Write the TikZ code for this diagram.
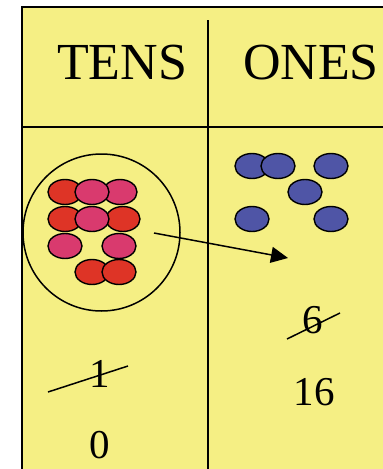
\documentclass[tikz,border=0pt]{standalone}
\usepackage{fontspec}
\setmainfont{Liberation Serif}
\usetikzlibrary{arrows.meta, positioning}
\definecolor{padyellow}{HTML}{F5EF84}
\definecolor{tenred}{HTML}{DE3426}
\definecolor{tenpink}{HTML}{D93A6E}
\definecolor{oneblue}{HTML}{4F55A6}

\begin{document}
\begin{tikzpicture}[x=1pt, y=-1pt,
      head/.style={font=\fontsize{52}{60}\selectfont, anchor=base, inner sep=0pt},
      digit/.style={font=\fontsize{41}{48}\selectfont, anchor=base, inner sep=0pt},
      redc/.style={fill=tenred},
      pinkc/.style={fill=tenpink},
      bluec/.style={fill=oneblue},
      strike/.style={line width=1.5pt},
      arr/.style={-{Triangle[length=17pt, width=16pt]}, line width=1.5pt}
    ]
    \useasboundingbox (0,0) rectangle (383,469);
    % place value chart
    \fill[white] (0,0) rectangle (383,469);
    \fill[padyellow] (22,7) rectangle (383,469);
    \draw[line width=2.2pt] (383,7) -- (22,7) -- (22,469);
    \draw[line width=1.7pt] (208,20) -- (208,469);
    \draw[line width=1.7pt] (22,127) -- (383,127);
    \node[head] (tens) at (122,79) {TENS};
    \node[head] (ones) at (311,79) {ONES};
    % ten counters grouped
    \node[draw, line width=1.5pt, circle, minimum size=157pt, inner sep=0pt] (group) at (101.5,232.5) {};
    \newcommand\counter[3]{\filldraw[#1, draw=black, line width=1.4pt] (#2,#3) ellipse (17pt and 12.5pt);}
    \counter{redc}{65}{192}
    \counter{pinkc}{120}{192}
    \counter{pinkc}{92}{192}
    \counter{redc}{65}{219}
    \counter{redc}{123}{219}
    \counter{pinkc}{92}{219}
    \counter{pinkc}{65}{246}
    \counter{pinkc}{119}{246}
    \counter{redc}{92}{272}
    \counter{redc}{119}{272}
    % ones counters
    \counter{bluec}{252}{166}
    \counter{bluec}{278}{166}
    \counter{bluec}{331}{166}
    \counter{bluec}{305}{192}
    \counter{bluec}{252}{219}
    \counter{bluec}{331}{219}
    % regroup
    \coordinate (from) at (154,233);
    \coordinate (to) at (288,258);
    \draw[arr] (from) -- (to);
    % digits
    \node[digit] (tensold) at (100,387) {1};
    \node[digit] (tensnew) at (100,458) {0};
    \node[digit] (onesold) at (313,333) {6};
    \node[digit] (onesnew) at (314,405) {16};
    \draw[strike] (48,392) -- (128,366);
    \draw[strike] (287,339) -- (340,313);
  \end{tikzpicture}
\end{document}
